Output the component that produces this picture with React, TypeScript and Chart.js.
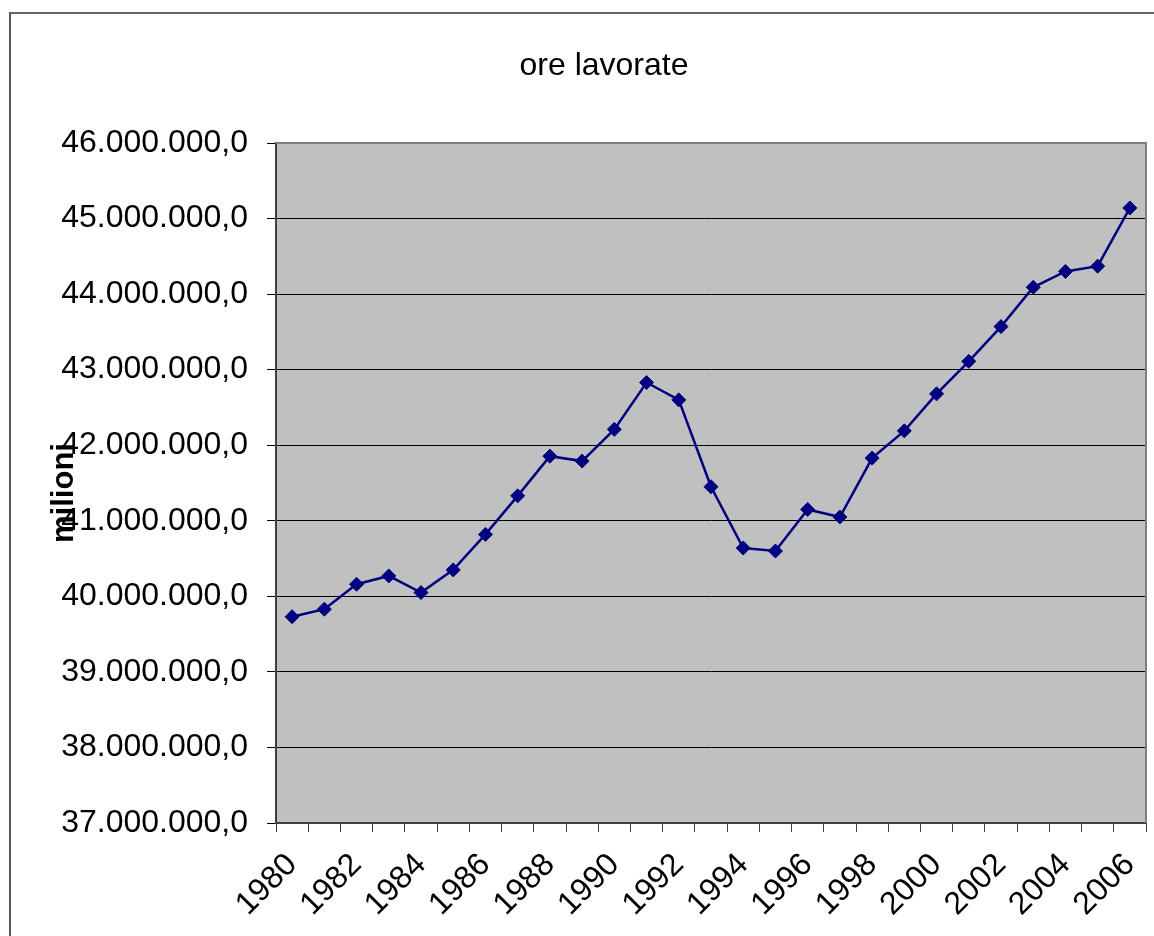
import React, { useEffect, useRef } from "react";
import { Chart, registerables } from "chart.js";

Chart.register(...registerables);

const years: string[] = [
  "1980", "1981", "1982", "1983", "1984", "1985", "1986", "1987", "1988",
  "1989", "1990", "1991", "1992", "1993", "1994", "1995", "1996", "1997",
  "1998", "1999", "2000", "2001", "2002", "2003", "2004", "2005", "2006",
];

const oreLavorate: number[] = [
  39730000, 39830000, 40160000, 40270000, 40050000, 40350000, 40820000,
  41330000, 41855000, 41790000, 42210000, 42830000, 42600000, 41450000,
  40640000, 40600000, 41150000, 41050000, 41830000, 42190000, 42680000,
  43110000, 43570000, 44090000, 44300000, 44370000, 45140000,
];

const yMin = 37000000;
const yMax = 46000000;
const yStep = 1000000;

const titleText = "ore lavorate";
const yAxisTitle = "milioni";

const FONT = '"Liberation Sans", Arial, sans-serif';

function formatIt(v: number): string {
  const s = Math.round(v).toString().replace(/\B(?=(\d{3})+(?!\d))/g, ".");
  return s + ",0";
}

const decorPlugin = {
  id: "decor",
  beforeDraw(chart: any) {
    const { ctx, chartArea } = chart;
    ctx.save();
    ctx.fillStyle = "#C0C0C0";
    ctx.fillRect(
      chartArea.left,
      chartArea.top,
      chartArea.right - chartArea.left,
      chartArea.bottom - chartArea.top
    );
    ctx.restore();
  },
  afterDraw(chart: any) {
    const { ctx, chartArea } = chart;
    ctx.save();
    ctx.strokeStyle = "#808080";
    ctx.lineWidth = 2;
    ctx.beginPath();
    ctx.moveTo(chartArea.left, chartArea.top);
    ctx.lineTo(chartArea.right, chartArea.top);
    ctx.lineTo(chartArea.right, chartArea.bottom);
    ctx.stroke();

    ctx.fillStyle = "#000";
    ctx.font = `32px ${FONT}`;
    ctx.textAlign = "center";
    ctx.textBaseline = "alphabetic";
    ctx.fillText(titleText, 604, 75);

    ctx.translate(73, 493);
    ctx.rotate(-Math.PI / 2);
    ctx.font = `bold 31px ${FONT}`;
    ctx.textAlign = "center";
    ctx.textBaseline = "alphabetic";
    ctx.fillText(yAxisTitle, 0, 0);
    ctx.restore();
  },
};

export default function App() {
  const canvasRef = useRef<HTMLCanvasElement | null>(null);

  useEffect(() => {
    if (!canvasRef.current) return;
    const chart = new Chart(canvasRef.current, {
      type: "line",
      data: {
        labels: years,
        datasets: [
          {
            label: titleText,
            data: oreLavorate,
            borderColor: "#000080",
            backgroundColor: "#000080",
            borderWidth: 2.5,
            pointStyle: "rectRot",
            pointRadius: 7,
            pointBorderWidth: 1,
            pointBackgroundColor: "#000080",
            pointBorderColor: "#000080",
            tension: 0,
            fill: false,
          },
        ],
      },
      options: {
        animation: false,
        responsive: false,
        devicePixelRatio: 1,
        layout: { padding: { left: 0, right: 8, top: 143, bottom: 0 } },
        plugins: {
          legend: { display: false },
          title: { display: false },
          tooltip: { enabled: false },
        },
        scales: {
          x: {
            type: "category",
            offset: true,
            grid: {
              offset: true,
              drawOnChartArea: false,
              drawTicks: true,
              tickLength: 9,
              tickColor: "#404040",
              tickWidth: 1,
            },
            border: { display: true, color: "#404040", width: 2 },
            ticks: {
              autoSkip: false,
              minRotation: 45,
              maxRotation: 45,
              padding: 14,
              color: "#000",
              font: { family: FONT, size: 32 },
              callback: (_v: any, i: number) => (i % 2 === 0 ? years[i] : ""),
            },
            afterFit: (scale: any) => {
              scale.height = 113;
              scale.paddingLeft = 0;
              scale.paddingRight = 0;
            },
          },
          y: {
            min: yMin,
            max: yMax,
            grid: {
              color: "#000",
              lineWidth: 1,
              drawTicks: true,
              tickLength: 9,
              tickColor: "#000",
            },
            border: { display: true, color: "#404040", width: 2 },
            ticks: {
              stepSize: yStep,
              padding: 19,
              color: "#000",
              font: { family: FONT, size: 32 },
              callback: (v: any) => formatIt(Number(v)),
            },
            afterFit: (scale: any) => {
              scale.width = 276;
              scale.paddingTop = 0;
              scale.paddingBottom = 0;
            },
          },
        },
      },
      plugins: [decorPlugin],
    });
    return () => chart.destroy();
  }, []);

  return (
    <div style={{ position: "absolute", left: 0, top: 0, width: 1154, height: 936, background: "#fff", overflow: "hidden" }}>
      <div
        style={{
          position: "absolute",
          left: 9,
          top: 12,
          width: 1145,
          height: 924,
          borderTop: "2px solid #666",
          borderLeft: "2px solid #555",
          boxSizing: "border-box",
        }}
      />
      <canvas
        ref={canvasRef}
        width={1154}
        height={936}
        style={{ position: "absolute", left: 0, top: 0, width: 1154, height: 936, display: "block" }}
      />
    </div>
  );
}
